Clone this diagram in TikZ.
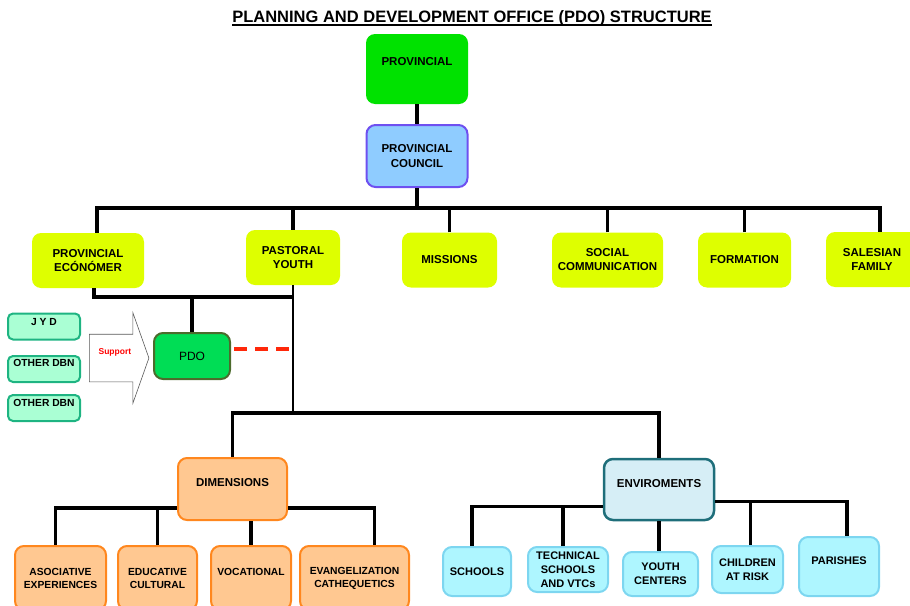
\documentclass[tikz,border=0pt]{standalone}
\usepackage{fontspec}
\setmainfont{Liberation Sans}
\usetikzlibrary{shapes.arrows}
\definecolor{provgreen}{RGB}{0,226,0}
\definecolor{councilfill}{RGB}{143,204,255}
\definecolor{councilline}{RGB}{110,80,240}
\definecolor{topfill}{RGB}{222,255,0}
\definecolor{pdofill}{RGB}{0,221,85}
\definecolor{pdoline}{RGB}{76,107,44}
\definecolor{dbnfill}{RGB}{170,255,212}
\definecolor{dbnline}{RGB}{30,180,130}
\definecolor{dimfill}{RGB}{255,200,145}
\definecolor{dimline}{RGB}{255,135,30}
\definecolor{envfill}{RGB}{214,238,246}
\definecolor{envline}{RGB}{30,110,122}
\definecolor{schfill}{RGB}{174,246,255}
\definecolor{schline}{RGB}{125,214,240}
\definecolor{dashred}{RGB}{255,40,10}
\begin{document}
\begin{tikzpicture}[x=1pt,y=1pt]
\tikzstyle{every node}+=[inner sep=0pt]
\tikzstyle{box}=[rounded corners=9pt, align=center, font=\fontsize{11.5}{14}\selectfont\bfseries]
\tikzstyle{topbox}=[box, fill=topfill, minimum height=55pt]
\tikzstyle{dbnbox}=[box, rounded corners=5pt, fill=dbnfill, draw=dbnline, line width=2pt, minimum width=72pt, minimum height=26pt, font=\fontsize{10.3}{12}\selectfont\bfseries]
\tikzstyle{dimbox}=[box, fill=dimfill, draw=dimline, line width=2pt, minimum height=64pt, font=\fontsize{10.3}{13}\selectfont\bfseries]
\tikzstyle{envbox}=[box, fill=schfill, draw=schline, line width=2pt, font=\fontsize{11}{14}\selectfont\bfseries]
\tikzstyle{link}=[line width=3.5pt]
\useasboundingbox (0,0) rectangle (910,-605);

\node[anchor=base, font=\fontsize{16.5}{20}\selectfont\bfseries] (title) at (472,-22) {PLANNING AND DEVELOPMENT OFFICE (PDO) STRUCTURE};
\draw[line width=1.5pt] ([yshift=-3pt]title.base west) -- ([yshift=-3pt]title.base east);

\node[box, fill=provgreen, minimum width=102pt, minimum height=70pt, text depth=16pt] (prov) at (417,-69) {PROVINCIAL};
\node[box, fill=councilfill, draw=councilline, line width=2pt, minimum width=101pt, minimum height=62pt, font=\fontsize{11.5}{15}\selectfont\bfseries] (council) at (417,-156) {PROVINCIAL\\COUNCIL};

\node[topbox, minimum width=112pt] (econ) at (88,-260.5) {PROVINCIAL\\ECÓNÓMER};
\node[topbox, minimum width=94pt] (pastoral) at (293,-257.5) {PASTORAL\\YOUTH};
\node[topbox, minimum width=95pt] (missions) at (449.5,-260) {MISSIONS};
\node[topbox, minimum width=111pt] (social) at (607.5,-260) {SOCIAL\\COMMUNICATION};
\node[topbox, minimum width=93pt] (formation) at (744.5,-260) {FORMATION};
\node[topbox, minimum width=92pt] (salesian) at (872,-259.5) {SALESIAN\\FAMILY};

\node[dbnbox, text depth=9pt] (jyd) at (44,-326.5) {J Y D};
\node[dbnbox, text depth=12pt] (dbna) at (44,-369) {OTHER DBN};
\node[dbnbox, text depth=10pt] (dbnb) at (44,-408) {OTHER DBN};
\node[single arrow, draw=gray!70!black, line width=0.6pt, fill=white, single arrow head extend=21.5pt, single arrow tip angle=141, inner xsep=9pt, inner ysep=13.5pt, text height=6pt, text depth=14pt, font=\fontsize{8.5}{10}\selectfont\bfseries, text=red, anchor=tail] (support) at (89,-358) {Support};
\node[box, fill=pdofill, draw=pdoline, line width=2pt, minimum width=76pt, minimum height=46pt, font=\fontsize{12}{14}\selectfont] (pdo) at (192,-356) {PDO};

\node[box, fill=dimfill, draw=dimline, line width=2pt, minimum width=109pt, minimum height=62pt, text depth=14pt] (dims) at (232.5,-489) {DIMENSIONS};
\node[box, fill=envfill, draw=envline, line width=2.5pt, minimum width=110pt, minimum height=61pt, text depth=13pt] (envs) at (659,-489.5) {ENVIROMENTS};

\node[dimbox, minimum width=91pt] (asoc) at (60.5,-578) {ASOCIATIVE\\EXPERIENCES};
\node[dimbox, minimum width=79pt] (edu) at (157.5,-578) {EDUCATIVE\\CULTURAL};
\node[dimbox, minimum width=80pt, text depth=12pt] (voc) at (251,-578) {VOCATIONAL};
\node[dimbox, minimum width=109pt] (evan) at (354.5,-578) {EVANGELIZATION\\CATHEQUETICS};

\node[envbox, minimum width=68pt, minimum height=49pt] (schools) at (477,-571.5) {SCHOOLS};
\node[envbox, minimum width=80pt, minimum height=45pt] (tech) at (568,-569.5) {TECHNICAL\\SCHOOLS\\AND VTCs};
\node[envbox, minimum width=75pt, minimum height=44pt] (youth) at (660.5,-574) {YOUTH\\CENTERS};
\node[envbox, minimum width=71pt, minimum height=47pt] (children) at (747.5,-569.5) {CHILDREN\\AT RISK};
\node[envbox, minimum width=80pt, minimum height=59pt, text depth=11pt] (parishes) at (839,-566.5) {PARISHES};

\coordinate (bar) at (0,-208);
\coordinate (econtop) at ([xshift=9pt]econ.north);
\coordinate (saltop) at ([xshift=8pt]salesian.north);
\draw[link] (prov) -- (council);
\draw[link] (council.south) -- (council.south |- bar);
\draw[link] (econtop) |- (saltop |- bar) -- (saltop);
\foreach \n in {pastoral,missions,social,formation}
  \draw[link] (\n.north) -- (\n.north |- bar);

\coordinate (pyjoin) at (293,-297);
\coordinate (midbar) at (0,-413);
\coordinate (dashstart) at ([yshift=7pt]pdo.east);
\draw[link] ([xshift=6pt]econ.south) |- (pyjoin);
\draw[link] (pdo.north) -- (pdo.north |- pyjoin);
\draw[line width=2.5pt] (pastoral.south) -- (pastoral.south |- midbar);
\draw[dashred, line width=4pt, dash pattern=on 13pt off 8pt, shorten <=3pt] (dashstart) -- (dashstart -| pyjoin);
\draw[link] (dims.north) |- (envs.north |- midbar) -- (envs.north);

\coordinate (diml) at ([yshift=-19pt]dims.west);
\coordinate (dimr) at ([yshift=-19pt]dims.east);
\draw[link] (diml) -| ([xshift=-5pt]asoc.north);
\draw[link] (edu.north) -- (edu.north |- diml);
\draw[link] (voc.north |- dims.south) -- (voc.north);
\draw[link] (dimr) -| ([xshift=20pt]evan.north);

\coordinate (envl) at ([yshift=-17pt]envs.west);
\coordinate (envr) at ([yshift=-12pt]envs.east);
\coordinate (techtop) at ([xshift=-5pt]tech.north);
\coordinate (kidtop) at ([xshift=3pt]children.north);
\draw[link] (envl) -| ([xshift=-5pt]schools.north);
\draw[link] (techtop) -- (techtop |- envl);
\draw[link] (envs.south) -- (envs.south |- youth.north);
\draw[link] (envr) -| ([xshift=8pt]parishes.north);
\draw[link] (kidtop) -- (kidtop |- envr);
\end{tikzpicture}
\end{document}
